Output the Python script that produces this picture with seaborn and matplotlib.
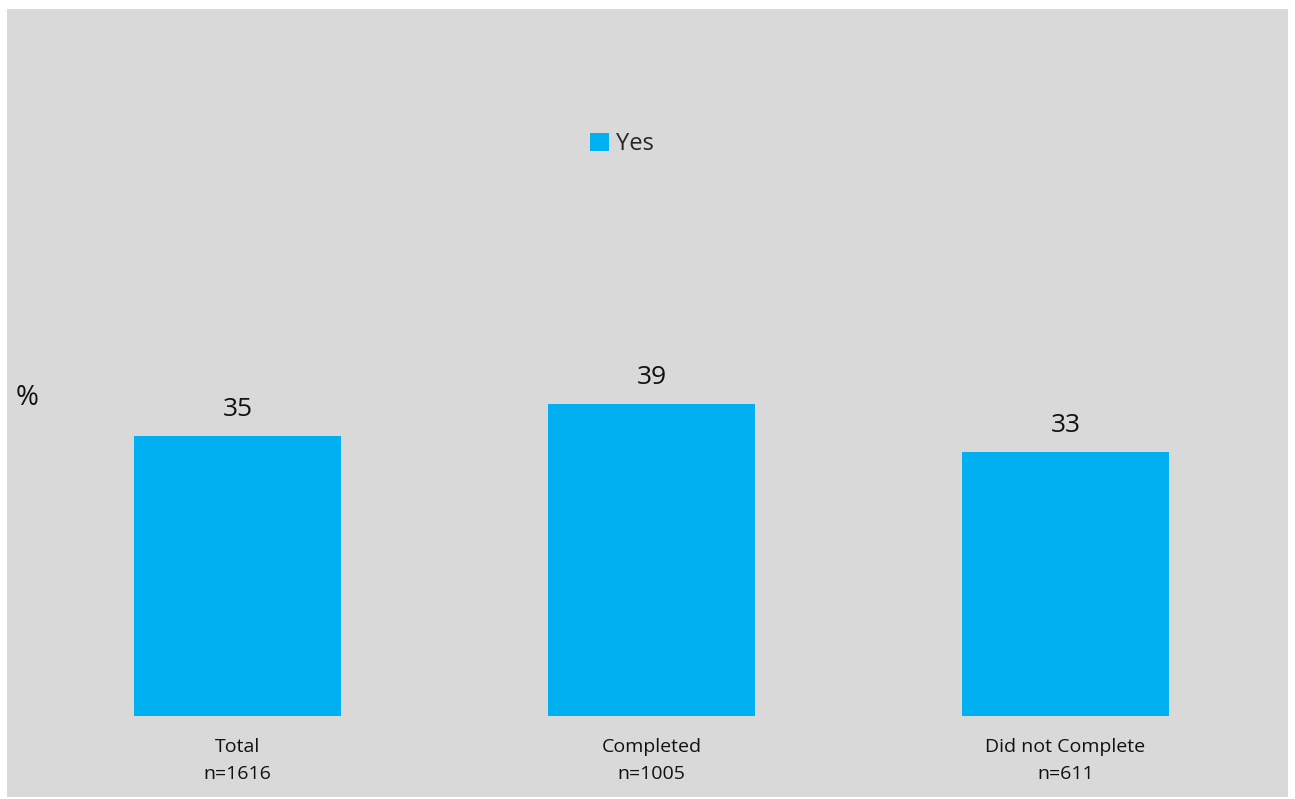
import matplotlib
matplotlib.use("Agg")
import matplotlib.pyplot as plt
import seaborn as sns
import pandas as pd
from matplotlib.patches import Rectangle

categories = ["Total\nn=1616", "Completed\nn=1005", "Did not Complete\nn=611"]
values = [35, 39, 33]
series_name = "Yes"

sns.set_theme(style="white")
plt.rcParams['font.family'] = ['Open Sans', 'DejaVu Sans']

BG = "#D9D9D9"
BAR = "#00B0F0"

W, H = 1295, 799
fig = plt.figure(figsize=(W / 100, H / 100), dpi=100, facecolor="white")
fig.patches.append(Rectangle((7 / W, 2 / H), (1288 - 7) / W, (790 - 2) / H,
                             transform=fig.transFigure, facecolor=BG,
                             edgecolor="none", zorder=-10))

ax_left, ax_right = 30.5, 1272.5
ax_bottom, ax_top = 716, 76
ax = fig.add_axes([ax_left / W, 1 - ax_bottom / H, (ax_right - ax_left) / W,
                   (ax_bottom - ax_top) / H])
ax.set_facecolor("none")
ax.set_zorder(5)

df = pd.DataFrame({"cat": categories, "val": values, "series": series_name})
sns.barplot(data=df, x="cat", y="val", hue="series", palette=[BAR],
            width=0.5, ax=ax, saturation=1, legend=False, linewidth=0)

ax.set_xlim(-0.5, 2.5)
ax.set_ylim(0, 80)
for sp in ax.spines.values():
    sp.set_visible(False)
ax.set_yticks([])
ax.set_xlabel("")
ax.set_ylabel("")
ax.tick_params(axis="x", length=0, pad=16, labelsize=14, colors="#111111")
for lbl in ax.get_xticklabels():
    lbl.set_linespacing(1.6)

for i, v in enumerate(values):
    ax.annotate(f"{v}", (i, v), xytext=(0, 10), textcoords="offset points",
                ha="center", va="bottom", fontsize=19, color="#111111")

fig.text(16 / W, 1 - 398 / H, "%", fontsize=20, ha="left", va="center",
         color="#111111")

handle = Rectangle((0, 0), 1, 1, facecolor=BAR, edgecolor="none")
fig.legend([handle], [series_name], loc="center", bbox_to_anchor=(622 / W, 1 - 144 / H),
           frameon=False, fontsize=17, handlelength=0.8, handleheight=0.8,
           handletextpad=0.3)

fig.savefig("out.png", dpi=100, facecolor="white")
